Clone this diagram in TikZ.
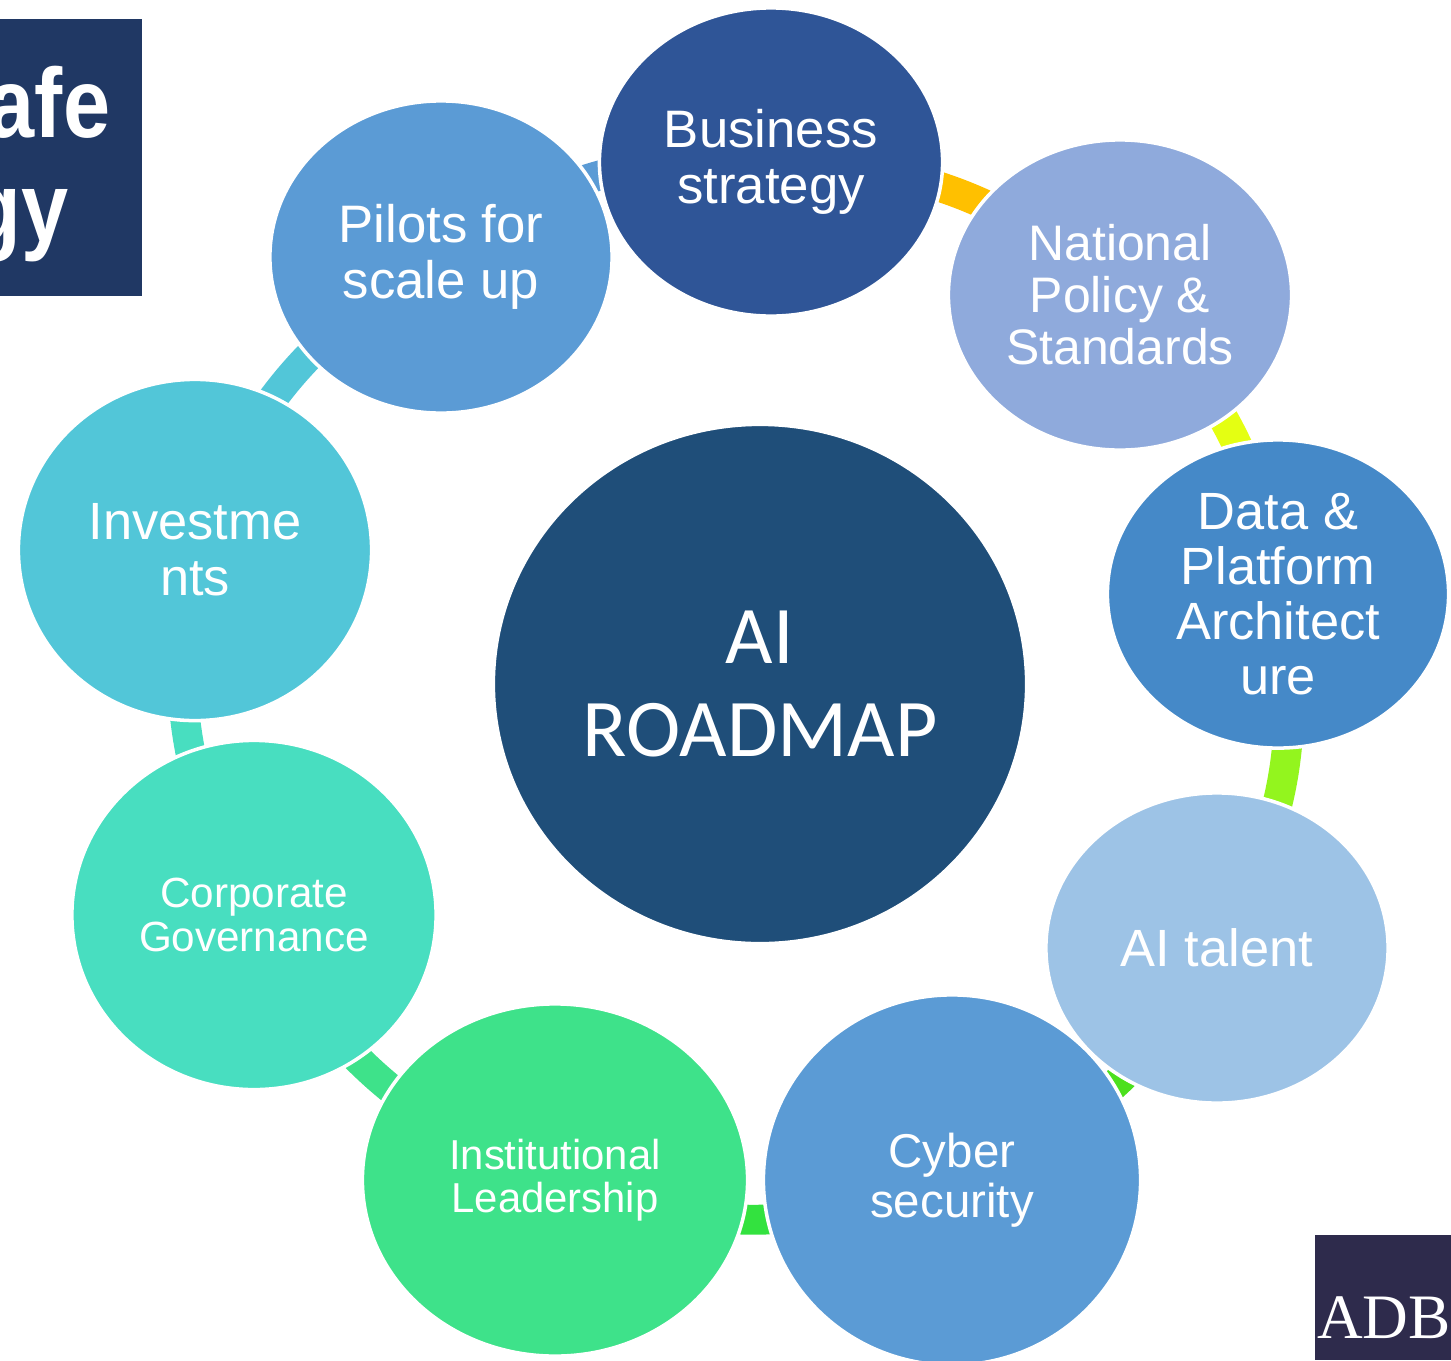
\documentclass[tikz,border=0pt]{standalone}
\usepackage{fontspec}
\usepackage{graphicx}
\setmainfont{Liberation Sans}
\newfontfamily\hubfont{Carlito}
\newfontfamily\logofont{Liberation Serif}
\usetikzlibrary{shapes.geometric}
\pgfdeclarelayer{background}
\pgfsetlayers{background,main}

\definecolor{hubblue}{HTML}{1F4E79}
\definecolor{bizblue}{HTML}{2F5597}
\definecolor{natblue}{HTML}{8FAADC}
\definecolor{datablue}{HTML}{4589C8}
\definecolor{talentblue}{HTML}{9DC3E6}
\definecolor{midblue}{HTML}{5B9BD5}
\definecolor{instgreen}{HTML}{3EE28A}
\definecolor{corpteal}{HTML}{48DEC0}
\definecolor{invcyan}{HTML}{52C6D8}
\definecolor{titlenavy}{HTML}{203864}
\definecolor{adbnavy}{HTML}{2E2B4C}
\definecolor{linkA}{HTML}{FFC000}
\definecolor{linkB}{HTML}{E4FF12}
\definecolor{linkC}{HTML}{93F51E}
\definecolor{linkD}{HTML}{4CE01E}
\definecolor{linkE}{HTML}{33E23F}

\tikzset{
	bubble/.style={ellipse, draw=white, line width=1pt, inner sep=0pt, text=white, align=center},
	link/.style={line width=8.5pt},
	titletext/.style={anchor=base east, inner sep=0pt, text=white, font=\bfseries\fs{28}{28}},
}
\def\fs#1#2{\fontsize{#1}{#2}\selectfont}

\begin{document}
\begin{tikzpicture}[x=0.01cm, y=-0.01cm]
			%%%%% START %%%%%
			\useasboundingbox (0,0) rectangle (1451,1360);
			\begin{scope}
			\clip (0,0) rectangle (1451,1360);
			
			% title box, cut at the left edge
			\fill[titlenavy] (0,19) rectangle (142,296);
			\node[titletext] (safe) at (111,137) {\scalebox{0.86}[1]{afe}};
			\node[titletext] (gy) at (69,241) {\scalebox{0.86}[1]{gy}};
			
			% centre
			\node[bubble, fill=hubblue, minimum width=5.33cm, minimum height=5.19cm, font=\hubfont\fs{23.3}{26.5}] (hub) at (760,684) {AI\\ROADMAP};
			
			% ring
			\node[bubble, fill=bizblue, minimum width=3.43cm, minimum height=3.08cm, font=\fs{15}{15.9}] (biz) at (771,162) {Business\\strategy};
			\node[bubble, fill=natblue, minimum width=3.43cm, minimum height=3.10cm, font=\fs{14.2}{14.8}] (nat) at (1120,295) {National\\Policy \&\\Standards};
			\node[bubble, fill=datablue, minimum width=3.41cm, minimum height=3.08cm, font=\fs{14.9}{15.6}] (data) at (1278,594) {Data \&\\Platform\\Architect\\ure};
			\node[bubble, fill=talentblue, minimum width=3.42cm, minimum height=3.10cm, font=\fs{14.9}{15.6}] (talent) at (1217,948) {AI talent};
			\node[bubble, fill=midblue, minimum width=3.77cm, minimum height=3.70cm, font=\fs{13.5}{14.2}] (cyber) at (952,1180) {Cyber\\security};
			\node[bubble, fill=instgreen, minimum width=3.85cm, minimum height=3.52cm, font=\fs{11.9}{12.2}] (inst) at (555,1180) {Institutional\\Leadership};
			\node[bubble, fill=corpteal, minimum width=3.64cm, minimum height=3.49cm, font=\fs{12}{12.5}] (corp) at (254,915) {Corporate\\Governance};
			\node[bubble, fill=invcyan, minimum width=3.53cm, minimum height=3.41cm, font=\fs{14.9}{15.9}] (inv) at (195,550) {Investme\\nts};
			\node[bubble, fill=midblue, minimum width=3.42cm, minimum height=3.12cm, font=\fs{15}{15.9}] (pilot) at (441,257) {Pilots for\\scale up};
			
			% links behind the ring
			\begin{pgfonlayer}{background}
			\draw[link, linkA] (biz.center) to[bend left=20] (nat.center);
			\draw[link, linkB] (nat.center) to[bend left=20] (data.center);
			\draw[link, linkC] (data.center) to[bend left=20] (talent.center);
			\draw[link, linkD] (talent.center) to[bend left=20] (cyber.center);
			\draw[link, linkE] (cyber.center) to[bend left=20] (inst.center);
			\draw[link, instgreen] (inst.center) to[bend left=20] (corp.center);
			\draw[link, corpteal] (corp.center) to[bend left=20] (inv.center);
			\draw[link, invcyan] (inv.center) to[bend left=20] (pilot.center);
			\draw[link, midblue] (pilot.center) to[bend left=20] (biz.center);
			\end{pgfonlayer}
			
			% logo
			\fill[adbnavy] (1315,1235) rectangle (1451,1360);
			\node[anchor=base, text=white, font=\logofont\fs{18}{18}] (adb) at (1384,1338) {ADB};
			\end{scope}
			%%%%% END %%%%%
\end{tikzpicture}
\end{document}
